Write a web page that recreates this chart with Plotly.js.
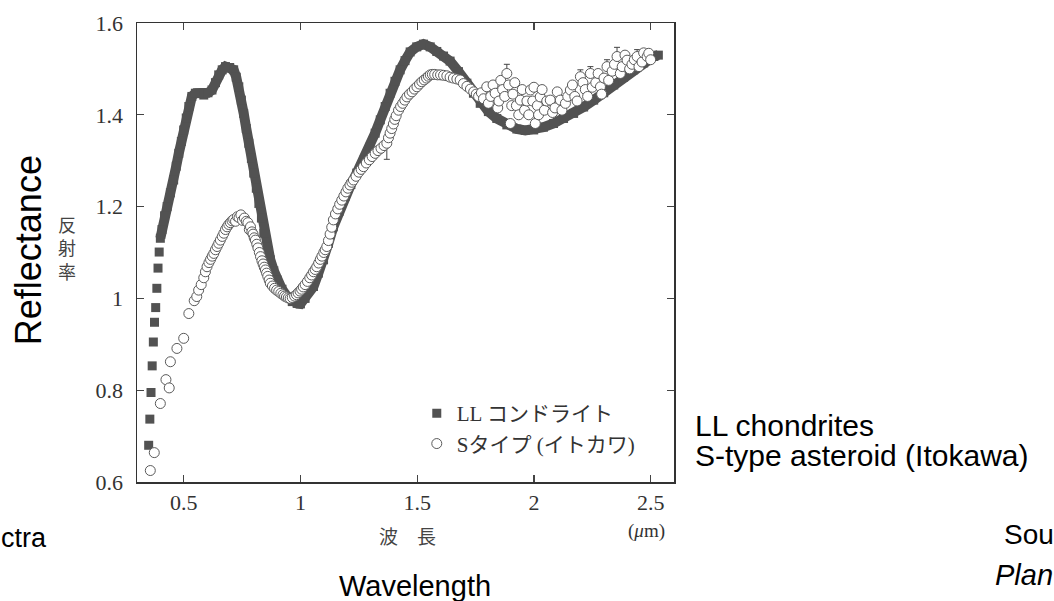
<!DOCTYPE html>
<html>
<head>
<meta charset="utf-8">
<script src="https://cdn.plot.ly/plotly-3.0.1.min.js"></script>
<style>html,body{margin:0;padding:0;background:#fff;}#chart{width:1054px;height:601px;}</style>
</head>
<body>
<div id="chart"></div>
<script>
// LL chondrite spectrum (filled squares)
const llWave = [0.350,0.355,0.360,0.365,0.370,0.375,0.380,0.385,0.390,0.395,0.400,0.407,0.418,0.429,0.443,0.457,0.468,0.479,0.490,0.500,0.511,0.522,0.535,0.550,0.568,0.586,0.604,0.621,0.636,0.650,0.665,0.679,0.697,0.714,0.725,0.736,0.747,0.757,0.768,0.779,0.790,0.800,0.811,0.822,0.833,0.843,0.857,0.871,0.886,0.900,0.921,0.943,0.965,0.986,1.000,1.020,1.056,1.077,1.099,1.120,1.141,1.166,1.191,1.216,1.241,1.270,1.299,1.320,1.342,1.363,1.384,1.405,1.427,1.448,1.470,1.498,1.527,1.556,1.584,1.613,1.641,1.677,1.713,1.741,1.770,1.805,1.841,1.884,1.927,1.963,1.999,2.041,2.084,2.127,2.170,2.213,2.256,2.299,2.342,2.384,2.427,2.470,2.513,2.533];
const llRefl = [0.680,0.737,0.795,0.853,0.905,0.948,0.980,1.022,1.066,1.101,1.131,1.150,1.180,1.200,1.230,1.258,1.288,1.316,1.342,1.367,1.393,1.418,1.440,1.447,1.447,1.443,1.448,1.454,1.470,1.487,1.498,1.505,1.503,1.498,1.482,1.461,1.432,1.403,1.370,1.338,1.305,1.273,1.240,1.207,1.175,1.142,1.112,1.084,1.060,1.040,1.020,1.004,0.993,0.989,0.988,1.000,1.026,1.055,1.084,1.120,1.156,1.190,1.222,1.248,1.273,1.301,1.330,1.360,1.389,1.418,1.447,1.473,1.498,1.518,1.537,1.548,1.554,1.548,1.538,1.528,1.517,1.494,1.469,1.447,1.425,1.407,1.392,1.378,1.369,1.366,1.367,1.373,1.381,1.392,1.403,1.417,1.432,1.448,1.465,1.482,1.498,1.513,1.527,1.530];
const llDenseFrom = 0.400; // where the squares merge into a continuous band

// S-type asteroid (Itokawa) spectrum (open circles)
const sWave = [
  0.357,0.374,0.400,0.424,0.438,0.443,0.471,0.500,0.522,0.545,
  0.556,0.564,0.575,0.586,0.593,0.600,0.608,0.615,0.622,0.629,
  0.636,0.643,0.650,0.657,0.665,0.672,0.679,0.686,0.693,0.700,
  0.707,0.714,0.722,0.730,0.737,0.745,0.752,0.760,0.768,0.775,
  0.781,0.786,0.792,0.797,0.802,0.807,0.813,0.818,0.824,0.829,
  0.835,0.840,0.845,0.850,0.855,0.860,0.866,0.871,0.880,0.889,
  0.898,0.907,0.916,0.925,0.932,0.940,0.948,0.956,0.965,0.975,
  0.983,0.990,0.998,1.005,1.012,1.020,1.030,1.040,1.048,1.056,
  1.063,1.070,1.078,1.085,1.092,1.100,1.106,1.113,1.120,1.127,
  1.134,1.141,1.150,1.160,1.168,1.177,1.186,1.195,1.203,1.212,
  1.220,1.227,1.238,1.250,1.260,1.270,1.282,1.295,1.307,1.320,
  1.332,1.345,1.358,1.370,1.377,1.384,1.391,1.398,1.404,1.410,
  1.420,1.429,1.438,1.447,1.456,1.467,1.478,1.488,1.499,1.510,
  1.520,1.530,1.540,1.548,1.556,1.565,1.575,1.588,1.600,1.613,
  1.627,1.641,1.655,1.670,1.684,1.698,1.713,1.728,1.742,1.753,
  1.763,1.775,1.784,1.798,1.805,1.815,1.825,1.834,1.845,1.850,
  1.858,1.866,1.875,1.884,1.892,1.899,1.905,1.910,1.918,1.925,
  1.935,1.942,1.950,1.960,1.970,1.978,1.985,1.995,2.000,2.006,
  2.015,2.020,2.027,2.035,2.045,2.055,2.070,2.080,2.090,2.100,
  2.113,2.120,2.135,2.145,2.156,2.165,2.175,2.185,2.199,2.210,
  2.220,2.230,2.242,2.250,2.265,2.275,2.285,2.290,2.300,2.313,
  2.320,2.335,2.345,2.356,2.370,2.378,2.390,2.399,2.410,2.420,
  2.430,2.442,2.450,2.463,2.470,2.485,2.492,2.500];
const sRefl = [
  0.625,0.664,0.771,0.823,0.805,0.862,0.891,0.913,0.967,0.995,
  1.004,1.018,1.030,1.045,1.058,1.069,1.078,1.085,1.092,1.098,
  1.106,1.113,1.120,1.127,1.135,1.142,1.150,1.156,1.161,1.165,
  1.169,1.172,1.168,1.178,1.176,1.182,1.170,1.175,1.168,1.165,
  1.150,1.156,1.145,1.140,1.132,1.127,1.118,1.110,1.100,1.091,
  1.082,1.075,1.068,1.062,1.055,1.048,1.040,1.033,1.027,1.022,
  1.018,1.015,1.011,1.008,1.005,1.003,1.001,1.000,1.002,1.005,
  1.008,1.012,1.016,1.020,1.025,1.030,1.037,1.045,1.051,1.058,
  1.063,1.069,1.077,1.085,1.092,1.100,1.106,1.113,1.126,1.140,
  1.155,1.171,1.184,1.195,1.205,1.214,1.223,1.232,1.240,1.247,
  1.253,1.258,1.266,1.275,1.281,1.287,1.295,1.302,1.309,1.316,
  1.322,1.327,1.333,1.338,1.350,1.360,1.370,1.380,1.390,1.398,
  1.410,1.418,1.425,1.432,1.439,1.445,1.450,1.456,1.461,1.467,
  1.472,1.476,1.480,1.484,1.487,1.488,1.488,1.487,1.487,1.486,
  1.485,1.482,1.480,1.478,1.476,1.468,1.462,1.456,1.450,1.445,
  1.440,1.448,1.435,1.461,1.425,1.440,1.465,1.447,1.415,1.430,
  1.475,1.455,1.440,1.490,1.465,1.381,1.420,1.445,1.470,1.420,
  1.400,1.432,1.455,1.410,1.430,1.400,1.454,1.430,1.460,1.381,
  1.420,1.400,1.439,1.455,1.410,1.430,1.432,1.405,1.415,1.450,
  1.432,1.410,1.425,1.440,1.454,1.465,1.440,1.430,1.483,1.470,
  1.455,1.440,1.490,1.460,1.470,1.490,1.461,1.445,1.480,1.505,
  1.475,1.495,1.510,1.527,1.490,1.505,1.530,1.519,1.500,1.510,
  1.520,1.527,1.505,1.515,1.535,1.527,1.534,1.520];
// error bars visible on a few S-type points
const sErrWave  = [1.370,1.884,2.199,2.242,2.313,2.356,2.442];
const sErrUp    = [0.000,0.020,0.015,0.015,0.015,0.020,0.015];
const sErrDown  = [0.035,0.000,0.000,0.000,0.000,0.000,0.000];

const xTickVals = [0.5,1,1.5,2,2.5];
const xTickText = ['0.5','1','1.5','2','2.5'];
const yTickVals = [0.6,0.8,1.0,1.2,1.4,1.6];
const yTickText = ['0.6','0.8','1','1.2','1.4','1.6'];

const nameLL = 'LL コンドライト';
const nameS = 'Sタイプ (イトカワ)';

const ink = '#333333';
const llColor = '#525252';

const plus = sWave.map(w => { const i = sErrWave.indexOf(w); return i < 0 ? 0 : sErrUp[i]; });
const minus = sWave.map(w => { const i = sErrWave.indexOf(w); return i < 0 ? 0 : sErrDown[i]; });

const bandX = [], bandY = [];
llWave.forEach((w, i) => { if (w >= llDenseFrom) { bandX.push(w); bandY.push(llRefl[i]); } });

const traces = [
  {x: bandX, y: bandY, mode: 'lines', line: {color: llColor, width: 10}, showlegend: false, legendgroup: 'll', hoverinfo: 'skip'},
  {x: llWave, y: llRefl, mode: 'markers', name: nameLL, legendgroup: 'll',
   marker: {symbol: 'square', size: 9, color: llColor, line: {width: 0}}},
  {x: sWave, y: sRefl, mode: 'markers', name: nameS, legendgroup: 's',
   marker: {symbol: 'circle', size: 10, color: '#ffffff', line: {color: '#5a5a5a', width: 1}},
   error_y: {type: 'data', symmetric: false, array: plus, arrayminus: minus, color: '#444', thickness: 1, width: 3}}
];

const sans = 'Liberation Sans, Arial, sans-serif';
const serif = 'Liberation Serif, Times New Roman, Noto Sans CJK JP, serif';
const cjk = 'Noto Sans CJK JP, sans-serif';

function ann(text, x, y, opts) {
  return Object.assign({text: text, x: x, y: y, xref: 'paper', yref: 'paper', showarrow: false,
    xanchor: 'center', yanchor: 'middle', font: {family: sans, size: 29, color: '#000'}}, opts || {});
}

const layout = {
  width: 1054, height: 601,
  margin: {l: 137, r: 380, t: 23, b: 119},
  paper_bgcolor: '#fff', plot_bgcolor: '#fff',
  font: {family: serif, color: ink},
  showlegend: true,
  legend: {x: 0.521, y: 0.039, xanchor: 'left', yanchor: 'bottom', bgcolor: 'rgba(0,0,0,0)',
    font: {family: serif, size: 21, color: ink}, tracegroupgap: 0, itemwidth: 30},
  xaxis: {range: [0.3, 2.6], tickvals: xTickVals, ticktext: xTickText, ticks: 'inside', ticklen: 7,
    tickwidth: 1.2, tickcolor: '#444', showline: true, linecolor: ink, linewidth: 1.5, mirror: 'ticks',
    showgrid: false, zeroline: false, tickfont: {family: serif, size: 22, color: ink}, ticklabelstandoff: 0},
  yaxis: {range: [0.6, 1.6], tickvals: yTickVals, ticktext: yTickText, ticks: 'inside', ticklen: 7,
    tickwidth: 1.2, tickcolor: '#444', showline: true, linecolor: ink, linewidth: 1.5, mirror: 'ticks',
    showgrid: false, zeroline: false, tickfont: {family: serif, size: 22, color: ink}, ticklabelstandoff: 8},
  annotations: [
    ann('Reflectance', -0.203, 0.505, {textangle: -90, font: {family: sans, size: 36, color: '#000'}}),
    ann('反<br>射<br>率', -0.130, 0.510, {font: {family: cjk, size: 18, color: '#444'}}),
    ann('波　長', 0.503, -0.116, {font: {family: cjk, size: 19, color: '#444'}}),
    ann('(<i>μ</i>m)', 0.948, -0.107, {font: {family: serif, size: 19, color: ink}}),
    ann('Wavelength', 0.518, -0.227),
    ann('ctra', -0.2570, -0.122, {xanchor: 'left', font: {family: sans, size: 27, color: '#000'}}),
    ann('LL chondrites', 1.035, 0.124, {xanchor: 'left', font: {family: sans, size: 30, color: '#000'}}),
    ann('S-type asteroid (Itokawa)', 1.035, 0.057, {xanchor: 'left', font: {family: sans, size: 30, color: '#000'}}),
    ann('Sou', 1.6108, -0.115, {xanchor: 'left', font: {family: sans, size: 28, color: '#000'}}),
    ann('<i>Plan</i>', 1.594, -0.203, {xanchor: 'left'})
  ]
};

Plotly.newPlot('chart', traces, layout, {displayModeBar: false, staticPlot: true});
</script>
</body>
</html>
